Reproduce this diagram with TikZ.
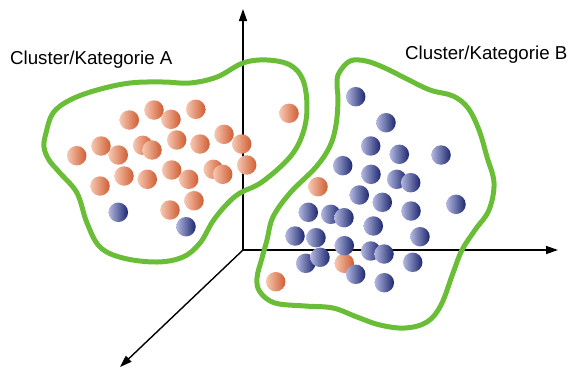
\documentclass[tikz,border=0pt]{standalone}
\usepackage{fontspec}
\setmainfont{Liberation Sans}
\usetikzlibrary{arrows.meta}

\definecolor{clustergreen}{RGB}{106,190,55}
\definecolor{orangelight}{RGB}{246,200,178}
\definecolor{orangedark}{RGB}{208,92,50}
\definecolor{bluelight}{RGB}{178,184,224}
\definecolor{bluedark}{RGB}{28,38,110}

\tikzset{
  axis/.style={line width=1.4pt, -{Triangle[length=12pt,width=8pt]}},
  hull/.style={draw=clustergreen, line width=5pt},
  ball/.style={circle, minimum size=19.5pt, inner sep=0pt, outer sep=0pt},
  oball/.style={ball, left color=orangelight, right color=orangedark},
  bball/.style={ball, left color=bluelight, right color=bluedark},
  label/.style={font=\fontsize{18.7}{21}\selectfont, inner sep=0pt}
}

\begin{document}
\begin{tikzpicture}[x=1pt,y=-1pt]
\useasboundingbox (0,0) rectangle (568,370);

% coordinate axes
\coordinate (O) at (243,250);
\coordinate (yend) at (243,9);
\coordinate (xend) at (558,250);
\coordinate (zend) at (120,367);
\draw[axis] (O) -- (yend);
\draw[axis] (O) -- (xend);
\draw[axis] (O) -- (zend);

% cluster hulls
\draw[hull] plot[smooth cycle, tension=0.6] coordinates {
  (46,133) (53,113) (70,100) (97,90) (130,83) (163,82) (190,83)
  (217,77) (243,63) (267,60) (290,65) (303,80) (307,107) (303,133)
  (290,157) (262,182) (240,193) (227,204) (213,221) (200,243)
  (183,257) (157,262) (123,258) (100,247) (87,223) (77,193)
  (60,173) (49,160) (44,147)};
\draw[hull] plot[smooth cycle, tension=0.6] coordinates {
  (339,73) (350,61) (366,61) (385,68) (405,78) (430,90) (453,96)
  (468,108) (479,130) (487,157) (494,183) (489,210) (475,230)
  (462,250) (453,273) (441,305) (427,322) (405,328) (380,325)
  (357,317) (333,308) (305,306) (275,303) (260,292) (257,278)
  (262,258) (267,240) (273,217) (290,193) (316,167) (330,146)
  (336,125) (338,100) (337,84)};

% labels
\node[label, anchor=base west] (labA) at (10,64) {Cluster/Kategorie A};
\node[label, anchor=base west] (labB) at (405,59) {Cluster/Kategorie B};

% orange samples
\node[oball] (a1)  at (76.7,155.7) {};
\node[oball] (a2)  at (101,146) {};
\node[oball] (a3)  at (129.3,120) {};
\node[oball] (a4)  at (154,110) {};
\node[oball] (a5)  at (171,119.3) {};
\node[oball] (a6)  at (195.7,109.3) {};
\node[oball] (a7)  at (118.3,155) {};
\node[oball] (a8)  at (142.7,145.3) {};
\node[oball] (a9)  at (152,150) {};
\node[oball] (a10) at (176.7,140) {};
\node[oball] (a11) at (200,144) {};
\node[oball] (a12) at (224,134.3) {};
\node[oball] (a13) at (241.7,144) {};
\node[oball] (a14) at (246.7,165) {};
\node[oball] (a15) at (100,186) {};
\node[oball] (a16) at (124,176) {};
\node[oball] (a17) at (147.3,179.3) {};
\node[oball] (a18) at (171.7,170) {};
\node[oball] (a19) at (188.7,179.3) {};
\node[oball] (a20) at (213.3,169.3) {};
\node[oball] (a21) at (222.7,174.3) {};
\node[oball] (a22) at (194,200.7) {};
\node[oball] (a23) at (170,210) {};
\node[oball] (a24) at (289,113.3) {};
\node[oball] (a25) at (318,186.7) {};
\node[oball] (a26) at (344.3,263.3) {};
\node[oball] (a27) at (275.7,281.7) {};

% blue samples
\node[bball] (b1)  at (118.3,212.3) {};
\node[bball] (b2)  at (186,226.7) {};
\node[bball] (b3)  at (355.7,96.7) {};
\node[bball] (b4)  at (386,122.7) {};
\node[bball] (b5)  at (370.7,146) {};
\node[bball] (b6)  at (399.3,154.3) {};
\node[bball] (b7)  at (441,155) {};
\node[bball] (b8)  at (342.7,165.7) {};
\node[bball] (b9)  at (371,174.3) {};
\node[bball] (b10) at (396.7,179.3) {};
\node[bball] (b11) at (410.7,182.7) {};
\node[bball] (b12) at (359.3,195) {};
\node[bball] (b13) at (382.3,202.3) {};
\node[bball] (b14) at (456,204.3) {};
\node[bball] (b15) at (308.3,212.3) {};
\node[bball] (b16) at (330.7,214.3) {};
\node[bball] (b17) at (344,217.7) {};
\node[bball] (b18) at (411,211) {};
\node[bball] (b19) at (373.3,226) {};
\node[bball] (b20) at (295,236) {};
\node[bball] (b21) at (316,237.7) {};
\node[bball] (b22) at (420,236.7) {};
\node[bball] (b23) at (344.3,245.7) {};
\node[bball] (b24) at (370.7,251) {};
\node[bball] (b25) at (384,254) {};
\node[bball] (b26) at (412.7,262.3) {};
\node[bball] (b27) at (305.7,263.3) {};
\node[bball] (b28) at (320,257.3) {};
\node[bball] (b29) at (355.7,274.3) {};
\node[bball] (b30) at (384.3,282.7) {};
\end{tikzpicture}
\end{document}
